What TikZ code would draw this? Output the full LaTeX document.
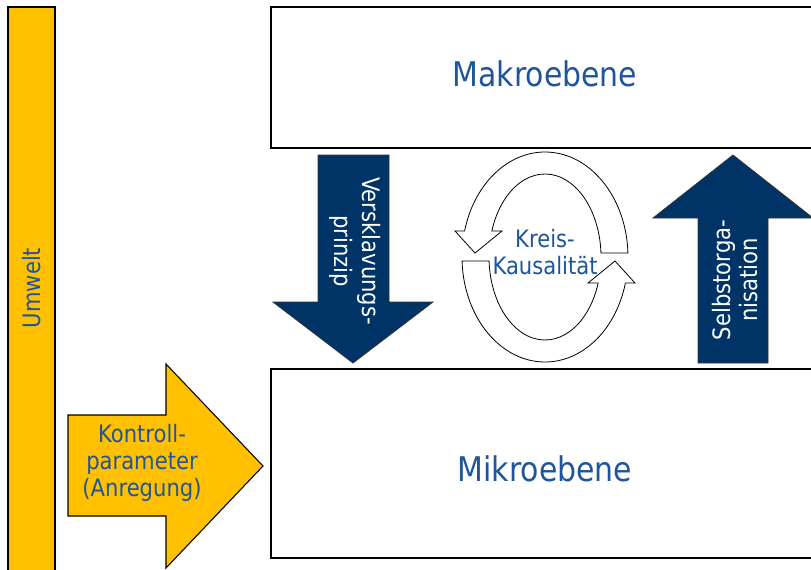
\documentclass[tikz,border=0pt]{standalone}
\usepackage{fontspec}
\setmainfont{DejaVu Sans}[FakeStretch=0.88]
\definecolor{navy}{RGB}{0,51,102}
\definecolor{gold}{RGB}{255,192,0}
\definecolor{tblue}{RGB}{30,85,155}
\begin{document}
\begin{tikzpicture}[x=0.75pt,y=-0.75pt,
  box/.style={draw=black,line width=1pt,fill=white},
  darrow/.style={draw=black!80,line width=0.6pt,fill=navy},
  yarrow/.style={draw=black,line width=0.8pt,fill=gold},
  ring/.style={draw=black,line width=0.6pt,fill=white},
  big/.style={text=tblue,font=\fontsize{25.5}{30}\selectfont},
  small/.style={text=tblue,font=\fontsize{18}{20.5}\selectfont,align=center},
  wsmall/.style={text=white,font=\fontsize{18}{20.5}\selectfont,align=center}]
\useasboundingbox (0,0) rectangle (811,569);
\clip (0,0) rectangle (811,569);
\fill[white] (0,0) rectangle (811,569);
% Umwelt
\draw[yarrow] (8,7) rectangle (55,600);
\node[small,rotate=90] (umwelt) at (31.5,288) {Umwelt};
% boxes
\draw[box] (271,7) rectangle (840,148);
\node[big] (makro) at (545,74) {Makroebene};
\draw[box] (271,369) rectangle (840,558);
\node[big] (mikro) at (545,469) {Mikroebene};
% Kontroll arrow
\draw[yarrow] (68,415) -- (166,415) -- (166,364) -- (263,466) -- (166,568) -- (166,516) -- (68,516) -- cycle;
\node[small] (kontroll) at (142,463) {Kontroll-\\parameter\\(Anregung)};
% Versklavung
\draw[darrow] (318,155) -- (389,155) -- (389,302) -- (433,302) -- (353,363) -- (273,302) -- (318,302) -- cycle;
\node[wsmall,rotate=-90] (versk) at (355,251) {Versklavungs-\\prinzip};
% Selbstorganisation
\draw[darrow] (698,363) -- (698,218) -- (653,218) -- (733,155) -- (813,218) -- (768,218) -- (768,363) -- cycle;
\node[wsmall,rotate=90] (selbst) at (735,280) {Selbstorga-\\nisation};
% ring arrows
\begin{scope}[shift={(545,257)}]
\draw[ring] (-2.2:83 and 105) arc[start angle=-2.2,end angle=-165.7,x radius=83,y radius=105]
  -- (-90,-26) -- (-70,-4) -- (-43,-26) -- (-161.7:56 and 83)
  arc[start angle=-161.7,end angle=-2.8,x radius=56,y radius=83] -- cycle;
\end{scope}
\begin{scope}[shift={(545,257)},rotate=180]
\draw[ring] (-2.2:83 and 105) arc[start angle=-2.2,end angle=-165.7,x radius=83,y radius=105]
  -- (-90,-26) -- (-70,-4) -- (-43,-26) -- (-161.7:56 and 83)
  arc[start angle=-161.7,end angle=-2.8,x radius=56,y radius=83] -- cycle;
\end{scope}
\node[small] (kreis) at (545,252) {Kreis-\\Kausalität};
\end{tikzpicture}
\end{document}
